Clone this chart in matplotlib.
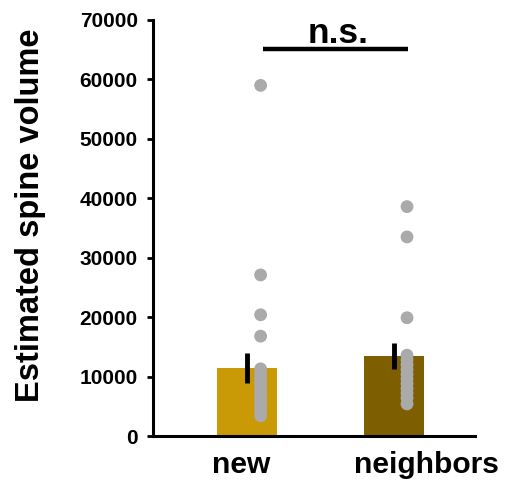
import numpy as np
import matplotlib.pyplot as plt

plt.rcParams['font.family'] = ['Liberation Sans', 'DejaVu Sans']
plt.rcParams['font.weight'] = 'bold'

# data
groups = ['new', 'neighbors']
means = [11450, 13450]
sems = [2600, 2150]
bar_colors = ['#c99a06', '#7d5f02']
new_pts = [59000, 27100, 20400, 16800, 11300, 10500, 9800, 9000, 8300, 7600,
           6900, 6200, 5500, 4800, 4100, 3400]
nb_pts = [38600, 33500, 19900, 13600, 12800, 12000, 11200, 10400, 9600, 8800,
          8000, 7200, 6400, 5400]
yticks = [0, 10000, 20000, 30000, 40000, 50000, 60000, 70000]

fig = plt.figure(figsize=(5.1, 4.83), dpi=100)
ax = fig.add_axes([0.3, 0.0973, 0.631, 0.8613])

x = np.arange(len(groups))
ax.bar(x, means, width=0.41, color=bar_colors, zorder=1)
ax.errorbar(x, means, yerr=sems, fmt='none', ecolor='black', elinewidth=3.5,
            capsize=0, zorder=2)

for i, pts in enumerate([new_pts, nb_pts]):
    ax.scatter(np.full(len(pts), i + 0.09), pts, s=85, color='#aaaaaa',
               edgecolors='none', zorder=3)

# significance bar
ax.plot([0.106, 1.096], [65100, 65100], color='black', lw=3.2,
        solid_capstyle='butt', clip_on=False)
ax.text(0.618, 66130, 'n.s.', ha='center', va='baseline', fontsize=25.5,
        fontweight='bold')

ax.set_xlim(-0.645, 1.553)
ax.set_ylim(0, 70000)
ax.set_yticks(yticks)
ax.set_yticklabels([str(t) for t in yticks], fontsize=15, fontweight='bold')
# labels sit a little off the bar centres in the original
ax.set_xticks([-0.044, 1.225])
ax.set_xticklabels(groups, fontsize=21.6, fontweight='bold')
ax.tick_params(axis='x', length=0, pad=11)
ax.tick_params(axis='y', length=4, width=2, pad=7)
ax.set_ylabel('Estimated spine volume', fontsize=23.5, fontweight='bold')
ax.yaxis.set_label_coords(-0.333, 0.531)

for s in ['top', 'right']:
    ax.spines[s].set_visible(False)
for s in ['left', 'bottom']:
    ax.spines[s].set_linewidth(2.2)

fig.savefig('out.png', dpi=100)
